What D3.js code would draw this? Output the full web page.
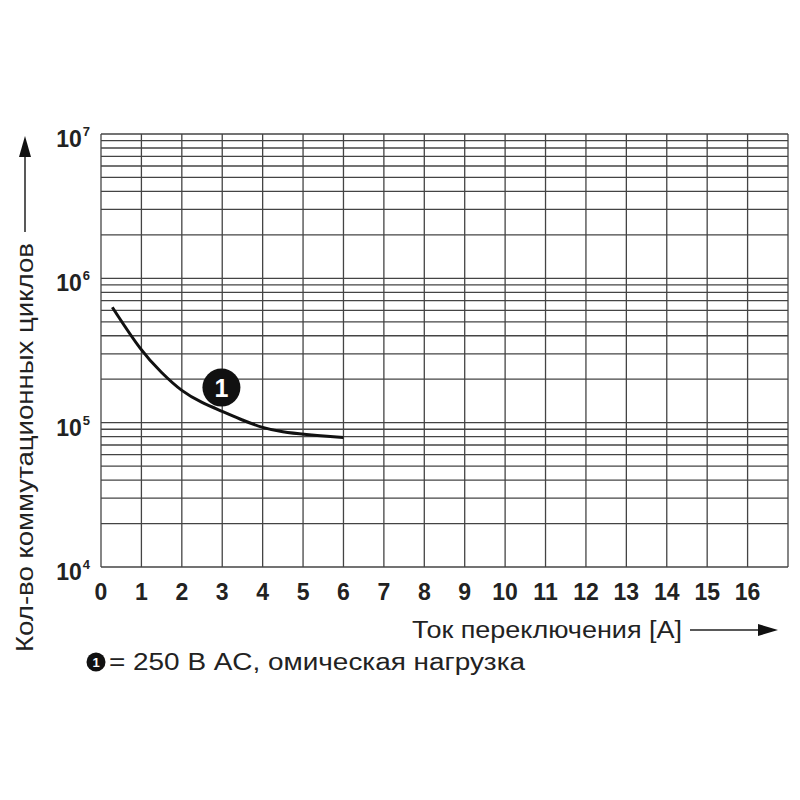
<!DOCTYPE html>
<html><head><meta charset="utf-8">
<script src="https://cdn.jsdelivr.net/npm/d3@7"></script>
<style>body{margin:0;background:#fff;} svg{display:block;font-family:"Liberation Sans",Arial,sans-serif;}</style>
</head><body>
<svg id="c" width="800" height="800"></svg>
<script>
const xTicks = [0,1,2,3,4,5,6,7,8,9,10,11,12,13,14,15,16];
const yDecades = [4,5,6,7];
const current = [0.28, 1, 1.5, 2, 2.5, 3, 3.5, 4, 4.5, 5, 6];
const cycles = [630000, 310000, 221000, 164000, 137000, 120000, 104000, 92000, 86000, 83000, 79000];
const xTitle = "Ток переключения [A]";
const yTitle = "Кол-во коммутационных циклов";
const legendText = "= 250 В AC, омическая нагрузка";
const curveLabel = "1";

const svg = d3.select("#c");
const x = d3.scaleLinear().domain([0,17]).range([101,788]);
const y = d3.scaleLog().domain([1e4,1e7]).range([567,134]);

const grid = svg.append("g").attr("stroke","#444").attr("stroke-width",1.3).attr("fill","none");
d3.range(0,18).forEach(v=>{
  grid.append("line").attr("x1",x(v)).attr("x2",x(v)).attr("y1",y(1e4)).attr("y2",y(1e7));
});
const hv = [];
[4,5,6].forEach(d=>{ for(let m=1;m<10;m++) hv.push(m*Math.pow(10,d)); });
hv.push(1e7);
hv.forEach(v=>{
  grid.append("line").attr("x1",x(0)).attr("x2",x(17)).attr("y1",y(v)).attr("y2",y(v));
});

// x tick labels
svg.append("g").selectAll("text").data(xTicks).join("text")
  .attr("x",d=>x(d)).attr("y",600).attr("text-anchor","middle")
  .attr("font-size",23).attr("font-weight","bold").attr("fill","#222")
  .text(d=>d);

// y tick labels
const yl = svg.append("g").selectAll("text").data(yDecades).join("text")
  .attr("x",90).attr("y",d=>y(Math.pow(10,d))+13).attr("text-anchor","end")
  .attr("font-size",23).attr("font-weight","bold").attr("fill","#222");
yl.append("tspan").text("10");
yl.append("tspan").attr("font-size",13).attr("dy",-11).attr("dx",1).text(d=>d);

// curve
const line = d3.line().x((d,i)=>x(current[i])).y((d,i)=>y(cycles[i])).curve(d3.curveBasis);
svg.append("path").datum(cycles).attr("d",line).attr("fill","none").attr("stroke","#111").attr("stroke-width",3);

// callout
svg.append("circle").attr("cx",x(2.98)).attr("cy",y(1.75e5)).attr("r",19).attr("fill","#111");
svg.append("text").attr("x",x(2.98)).attr("y",y(1.75e5)+9).attr("text-anchor","middle")
  .attr("font-size",25).attr("font-weight","bold").attr("fill","#fff").text(curveLabel);

// x title
svg.append("text").attr("x",412).attr("y",638).attr("font-size",23).attr("fill","#222")
  .attr("textLength",270).attr("lengthAdjust","spacingAndGlyphs").text(xTitle);
svg.append("line").attr("x1",690).attr("x2",760).attr("y1",630).attr("y2",630).attr("stroke","#222").attr("stroke-width",1.5);
svg.append("path").attr("d","M758,624 L778,630 L758,636 Z").attr("fill","#111");

// y title
svg.append("text").attr("transform","translate(33,652) rotate(-90)").attr("font-size",23).attr("fill","#222")
  .attr("textLength",409).attr("lengthAdjust","spacingAndGlyphs").text(yTitle);
svg.append("line").attr("x1",25).attr("x2",25).attr("y1",232).attr("y2",155).attr("stroke","#222").attr("stroke-width",1.5);
svg.append("path").attr("d","M19,157 L25,136 L31,157 Z").attr("fill","#111");

// legend
svg.append("circle").attr("cx",96).attr("cy",662).attr("r",9.5).attr("fill","#111");
svg.append("text").attr("x",96).attr("y",667).attr("text-anchor","middle").attr("font-size",13).attr("font-weight","bold").attr("fill","#fff").text(curveLabel);
svg.append("text").attr("x",109).attr("y",670).attr("font-size",23).attr("fill","#222")
  .attr("textLength",416).attr("lengthAdjust","spacingAndGlyphs").text(legendText);
</script>
</body></html>
